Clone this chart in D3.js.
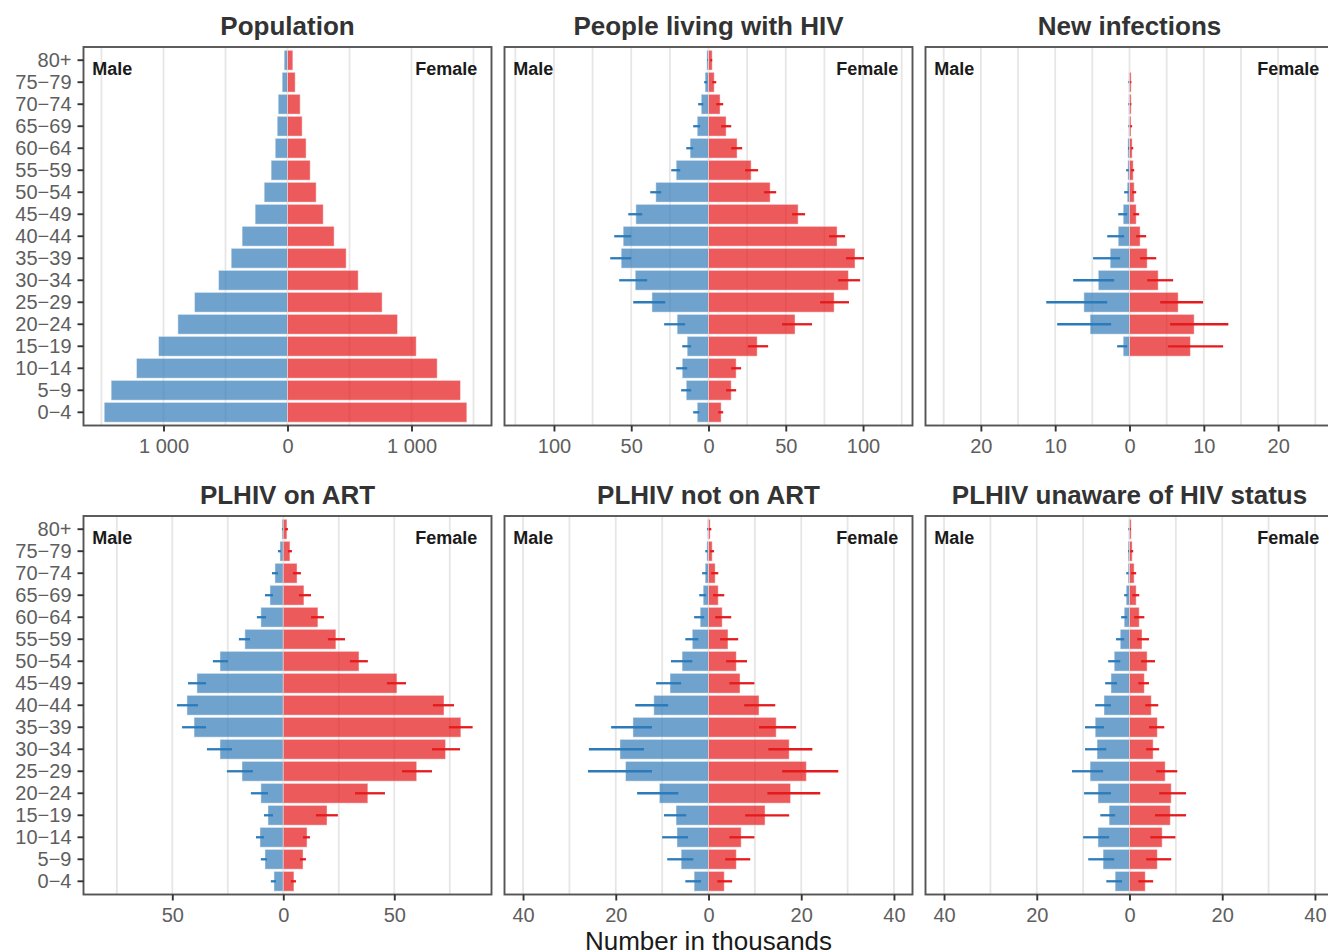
<!DOCTYPE html>
<html>
<head>
<meta charset="utf-8">
<script src="https://cdn.jsdelivr.net/npm/d3@7"></script>
<style>
    body { margin: 0; background: #ffffff; }
    svg { display: block; font-family: "Liberation Sans", Arial, Helvetica, sans-serif; }
</style>
</head>
<body>
<div id="chart"></div>
<script>

// age groups, youngest first (drawn bottom to top)
const ageGroups = ["0−4", "5−9", "10−14", "15−19", "20−24", "25−29", "30−34", "35−39", "40−44",
    "45−49", "50−54", "55−59", "60−64", "65−69", "70−74", "75−79", "80+"];

// Population (thousands)
const popMale   = [1478, 1422, 1218, 1040, 884, 750, 556, 454, 366, 261, 188, 132, 99, 83, 75, 43, 27];
const popFemale = [1446, 1395, 1207, 1038, 887, 763, 570, 473, 376, 288, 231, 183, 150, 118, 102, 62, 43];

// People living with HIV
const plhivMale     = [7.3, 14.4, 17.0, 13.8, 20.3, 36.6, 47.4, 56.5, 55.2, 47.0, 34.1, 20.9, 11.9, 7.3, 4.7, 2.2, 1.1];
const plhivMaleLo   = [6.0, 11.2, 13.8, 11.2, 15.1, 28.0, 39.7, 50.0, 50.0, 42.9, 30.6, 18.3, 9.9, 5.4, 3.4, 0.9, 0.5];
const plhivMaleHi   = [9.9, 17.7, 20.9, 17.0, 28.7, 48.7, 57.8, 63.6, 61.0, 51.9, 37.7, 24.1, 14.4, 9.9, 6.7, 2.8, 0.9];
const plhivFemale   = [8.2, 14.7, 17.9, 31.5, 56.0, 81.3, 90.5, 94.8, 83.2, 58.0, 39.9, 27.6, 18.5, 11.4, 7.5, 3.7, 2.4];
const plhivFemaleLo = [6.3, 11.4, 14.7, 25.6, 47.6, 72.2, 83.8, 89.0, 78.0, 54.1, 36.0, 23.7, 14.7, 8.2, 5.0, 2.4, 1.1];
const plhivFemaleHi = [9.5, 17.9, 21.1, 38.6, 67.0, 90.9, 98.1, 100.6, 88.4, 62.5, 43.8, 32.1, 21.8, 14.7, 9.5, 5.0, 2.4];

// New infections
const newInfMale     = [0, 0, 0, 0.85, 5.3, 6.14, 4.2, 2.6, 1.52, 0.85, 0.31, 0.22, 0.22, 0.1, 0.1, 0.09, null];
const newInfMaleLo   = [0, 0, 0, 0.31, 2.47, 3.0, 2.06, 1.26, 0.72, 0.31, 0.13, 0.1, 0.05, 0.05, 0.05, 0.05, null];
const newInfMaleHi   = [0, 0, 0, 1.66, 9.73, 11.2, 7.58, 4.9, 3.0, 1.52, 0.72, 0.45, 0.2, 0.15, 0.15, 0.15, null];
const newInfFemale   = [0, 0, 0, 8.2, 8.7, 6.55, 3.86, 2.38, 1.43, 0.9, 0.63, 0.5, 0.36, 0.2, 0.22, 0.22, null];
const newInfFemaleLo = [0, 0, 0, 5.2, 5.47, 4.13, 2.38, 1.43, 0.9, 0.5, 0.36, 0.22, 0.22, 0.1, 0.1, 0.1, null];
const newInfFemaleHi = [0, 0, 0, 12.6, 13.3, 9.9, 5.87, 3.6, 2.24, 1.3, 0.9, 0.63, 0.5, 0.35, 0.25, 0.25, null];

// PLHIV on ART
const artMale     = [4.2, 8.25, 10.5, 6.9, 10.1, 18.6, 28.5, 40.2, 43.4, 38.9, 28.5, 17.3, 10.1, 6.0, 3.75, 1.5, 0.6];
const artMaleLo   = [3.3, 7.4, 8.7, 4.65, 6.9, 13.7, 23.1, 34.8, 38.4, 34.8, 24.9, 15.0, 7.8, 4.65, 2.4, 1.05, 0.2];
const artMaleHi   = [5.6, 10.1, 12.3, 8.7, 14.6, 25.4, 34.4, 45.6, 47.9, 42.9, 31.7, 20.0, 11.9, 8.25, 5.1, 2.4, 0.6];
const artFemale   = [4.8, 8.9, 10.7, 19.7, 38.1, 60.1, 73.1, 80.0, 72.4, 51.2, 34.1, 23.7, 15.6, 9.3, 6.2, 3.0, 1.65];
const artFemaleLo = [3.45, 7.5, 8.9, 14.7, 32.3, 53.5, 67.0, 74.6, 67.4, 46.7, 30.0, 20.1, 12.5, 7.05, 4.35, 2.1, 0.75];
const artFemaleHi = [5.7, 10.2, 12.0, 24.6, 45.8, 67.0, 79.6, 85.3, 76.9, 55.3, 38.1, 27.8, 18.3, 12.5, 7.95, 3.9, 2.1];

// PLHIV not on ART
const notArtMale     = [3.1, 5.9, 6.8, 7.0, 10.6, 17.9, 19.1, 16.3, 11.8, 8.3, 5.7, 3.5, 1.8, 1.15, 0.72, 0.36, 0.2];
const notArtMaleLo   = [1.6, 3.3, 4.4, 4.8, 6.5, 12.2, 13.9, 12.2, 8.7, 5.9, 3.5, 2.2, 0.94, 0.5, 0.3, 0.2, 0.1];
const notArtMaleHi   = [5.0, 8.9, 10.0, 9.6, 15.4, 26.0, 25.8, 21.0, 15.8, 11.3, 8.1, 5.0, 3.1, 2.0, 1.37, 0.7, 0.3];
const notArtFemale   = [3.4, 6.0, 7.05, 12.2, 17.7, 21.1, 17.4, 14.6, 10.9, 6.8, 6.0, 4.2, 2.95, 2.1, 1.44, 0.8, 0.36];
const notArtFemaleLo = [1.9, 3.6, 4.5, 7.9, 12.7, 15.9, 12.9, 10.9, 7.7, 4.5, 3.8, 2.5, 1.44, 1.0, 0.58, 0.36, 0.05];
const notArtFemaleHi = [5.1, 9.0, 9.9, 17.4, 24.1, 28.0, 22.4, 18.9, 14.4, 9.9, 8.3, 6.4, 4.9, 3.4, 2.1, 1.2, 0.6];

// PLHIV unaware of HIV status
const unawareMale     = [3.1, 5.7, 6.8, 4.4, 6.8, 8.5, 7.0, 7.4, 5.5, 4.0, 3.3, 2.0, 1.15, 0.72, 0.3, 0.3, 0.15];
const unawareMaleLo   = [1.6, 3.3, 4.4, 3.1, 4.0, 5.7, 5.0, 5.5, 4.0, 2.7, 2.0, 1.15, 0.5, 0.43, 0.2, 0.1, 0.1];
const unawareMaleHi   = [5.0, 8.9, 10.0, 6.3, 9.8, 12.4, 9.6, 9.6, 7.4, 5.25, 4.6, 2.9, 1.8, 1.15, 0.7, 0.3, 0.25];
const unawareFemale   = [3.4, 6.0, 7.05, 8.8, 9.0, 7.7, 5.1, 6.0, 4.7, 3.2, 3.8, 2.7, 2.1, 1.44, 1.0, 0.58, 0.36];
const unawareFemaleLo = [1.9, 3.6, 4.5, 5.5, 6.4, 5.75, 3.6, 4.2, 3.4, 1.9, 2.5, 1.65, 1.0, 0.58, 0.36, 0.15, 0.1];
const unawareFemaleHi = [5.1, 9.0, 9.9, 12.2, 12.2, 10.3, 6.4, 7.5, 6.2, 4.2, 5.5, 4.2, 3.2, 2.1, 1.44, 0.8, 0.3];

// x limits and ticks per panel
const popDomain = [-1645, 1645],   popTicks = [-1000, 0, 1000],          popGrid = 500;
const plhivDomain = [-132, 132],   plhivTicks = [-100, -50, 0, 50, 100], plhivGrid = 25;
const newInfDomain = [-27.45, 27.45], newInfTicks = [-20, -10, 0, 10, 20], newInfGrid = 5;
const artDomain = [-90, 93.8],     artTicks = [-50, 0, 50],              artGrid = 25;
const notArtDomain = [-44, 44],    notArtTicks = [-40, -20, 0, 20, 40],  notArtGrid = 10;
const unawareDomain = [-44, 44],   unawareTicks = [-40, -20, 0, 20, 40], unawareGrid = 10;

const panels = [
    { title: 'Population', male: popMale, female: popFemale, domain: popDomain, ticks: popTicks, grid: popGrid },
    { title: 'People living with HIV', male: plhivMale, female: plhivFemale, mLo: plhivMaleLo, mHi: plhivMaleHi,
      fLo: plhivFemaleLo, fHi: plhivFemaleHi, domain: plhivDomain, ticks: plhivTicks, grid: plhivGrid },
    { title: 'New infections', male: newInfMale, female: newInfFemale, mLo: newInfMaleLo, mHi: newInfMaleHi,
      fLo: newInfFemaleLo, fHi: newInfFemaleHi, domain: newInfDomain, ticks: newInfTicks, grid: newInfGrid },
    { title: 'PLHIV on ART', male: artMale, female: artFemale, mLo: artMaleLo, mHi: artMaleHi,
      fLo: artFemaleLo, fHi: artFemaleHi, domain: artDomain, ticks: artTicks, grid: artGrid },
    { title: 'PLHIV not on ART', male: notArtMale, female: notArtFemale, mLo: notArtMaleLo, mHi: notArtMaleHi,
      fLo: notArtFemaleLo, fHi: notArtFemaleHi, domain: notArtDomain, ticks: notArtTicks, grid: notArtGrid },
    { title: 'PLHIV unaware of HIV status', male: unawareMale, female: unawareFemale, mLo: unawareMaleLo, mHi: unawareMaleHi,
      fLo: unawareFemaleLo, fHi: unawareFemaleHi, domain: unawareDomain, ticks: unawareTicks, grid: unawareGrid }
];

const width = 1328, height = 952;
const colLeft = [83.5, 504.5, 925.5];
const rowTop = [47, 516];
const panelW = 408, panelH = 378.5;

const maleFill = '#377eb8', femaleFill = '#e41a1c';
const maleErr = '#2b7bba', femaleErr = '#e41a1c';

const fmt = d3.formatLocale({ decimal: '.', thousands: ' ', grouping: [3], currency: ['', ''] }).format(',');

function createSVG(containerId) {
    try {
        return d3.select(containerId)
            .append('svg')
            .attr('width', width)
            .attr('height', height)
            .attr('viewBox', '0 0 ' + width + ' ' + height);
    } catch (error) {
        console.log('createSVG error: ' + error);
        return null;
    }
}

function drawPanel(svg, p, i) {

    let col = i % 3, row = Math.floor(i / 3);
    let x0 = colLeft[col], y0 = rowTop[row];

    let g = svg.append('g').attr('transform', 'translate(' + x0 + ',' + y0 + ')');

    let x = d3.scaleLinear().domain(p.domain).range([0, panelW]);
    let y = d3.scaleBand().domain(ageGroups.slice().reverse())
        .range([0, panelH]).paddingInner(0.1).paddingOuter(0.15);

    // vertical grid lines
    let gridVals = d3.range(Math.ceil(p.domain[0] / p.grid) * p.grid, p.domain[1] + 1e-9, p.grid);
    g.selectAll('line.grid')
        .data(gridVals).enter()
        .append('line')
        .attr('class', 'grid')
        .attr('x1', d => x(d)).attr('x2', d => x(d))
        .attr('y1', 0).attr('y2', panelH)
        .attr('stroke', '#e6e6e6')
        .attr('stroke-width', 1.8);

    let rows = ageGroups.map((a, k) => ({
        age: a, m: p.male[k], f: p.female[k],
        mLo: p.mLo ? p.mLo[k] : null, mHi: p.mHi ? p.mHi[k] : null,
        fLo: p.fLo ? p.fLo[k] : null, fHi: p.fHi ? p.fHi[k] : null
    }));

    // male bars (negative side)
    g.selectAll('rect.male')
        .data(rows.filter(d => d.m)).enter()
        .append('rect')
        .attr('class', 'male')
        .attr('x', d => x(-d.m))
        .attr('width', d => x(0) - x(-d.m))
        .attr('y', d => y(d.age))
        .attr('height', y.bandwidth())
        .attr('fill', maleFill)
        .attr('fill-opacity', 0.72)
        .attr('stroke', '#ffffff')
        .attr('stroke-opacity', 0.45)
        .attr('stroke-width', 1);

    // female bars
    g.selectAll('rect.female')
        .data(rows.filter(d => d.f)).enter()
        .append('rect')
        .attr('class', 'female')
        .attr('x', x(0))
        .attr('width', d => x(d.f) - x(0))
        .attr('y', d => y(d.age))
        .attr('height', y.bandwidth())
        .attr('fill', femaleFill)
        .attr('fill-opacity', 0.72)
        .attr('stroke', '#ffffff')
        .attr('stroke-opacity', 0.45)
        .attr('stroke-width', 1);

    // uncertainty ranges
    if (p.mLo) {
        g.selectAll('line.merr')
            .data(rows.filter(d => d.mHi)).enter()
            .append('line')
            .attr('class', 'merr')
            .attr('x1', d => x(-d.mLo)).attr('x2', d => x(-d.mHi))
            .attr('y1', d => y(d.age) + y.bandwidth() / 2)
            .attr('y2', d => y(d.age) + y.bandwidth() / 2)
            .attr('stroke', maleErr)
            .attr('stroke-width', 2.3);

        g.selectAll('line.ferr')
            .data(rows.filter(d => d.fHi)).enter()
            .append('line')
            .attr('class', 'ferr')
            .attr('x1', d => x(d.fLo)).attr('x2', d => x(d.fHi))
            .attr('y1', d => y(d.age) + y.bandwidth() / 2)
            .attr('y2', d => y(d.age) + y.bandwidth() / 2)
            .attr('stroke', femaleErr)
            .attr('stroke-width', 2.3);
    }

    // sex labels
    g.append('text')
        .attr('x', 8.8).attr('y', 28)
        .attr('font-size', 18).attr('font-weight', 'bold').attr('fill', '#1a1a1a')
        .text('Male');
    g.append('text')
        .attr('x', panelW - 14.2).attr('y', 28)
        .attr('text-anchor', 'end')
        .attr('font-size', 18).attr('font-weight', 'bold').attr('fill', '#1a1a1a')
        .text('Female');

    // panel border
    g.append('rect')
        .attr('x', 0).attr('y', 0)
        .attr('width', panelW).attr('height', panelH)
        .attr('fill', 'none')
        .attr('stroke', '#555555')
        .attr('stroke-width', 1.9);

    // x axis
    let xAxis = g.append('g')
        .attr('transform', 'translate(0,' + panelH + ')')
        .call(d3.axisBottom(x).tickValues(p.ticks).tickSize(6).tickPadding(4)
            .tickFormat(d => fmt(Math.abs(d))));
    xAxis.select('.domain').remove();
    xAxis.selectAll('line').attr('stroke', '#333333').attr('stroke-width', 1.9);
    xAxis.selectAll('text')
        .attr('font-size', 20)
        .attr('font-family', '"Liberation Sans", Arial, sans-serif')
        .attr('fill', '#5e5e5e')
        .attr('dy', null)
        .attr('y', 27.6);

    // y axis only on the first column
    if (col === 0) {
        let yAxis = g.append('g')
            .call(d3.axisLeft(y).tickSize(6).tickPadding(6));
        yAxis.select('.domain').remove();
        yAxis.selectAll('line').attr('stroke', '#333333').attr('stroke-width', 1.9);
        yAxis.selectAll('text')
            .attr('font-size', 20)
            .attr('font-family', '"Liberation Sans", Arial, sans-serif')
            .attr('fill', '#5e5e5e');
    }

    // title
    svg.append('text')
        .attr('x', x0 + panelW / 2)
        .attr('y', y0 - 12)
        .attr('text-anchor', 'middle')
        .attr('font-size', 26)
        .attr('font-weight', 'bold')
        .attr('fill', '#333333')
        .text(p.title);
}

let svg = createSVG('#chart');
panels.forEach((p, i) => drawPanel(svg, p, i));

svg.append('text')
    .attr('x', (colLeft[0] + colLeft[2] + panelW) / 2)
    .attr('y', 950)
    .attr('text-anchor', 'middle')
    .attr('font-size', 26)
    .attr('fill', '#1a1a1a')
    .text('Number in thousands');

</script>
</body>
</html>
